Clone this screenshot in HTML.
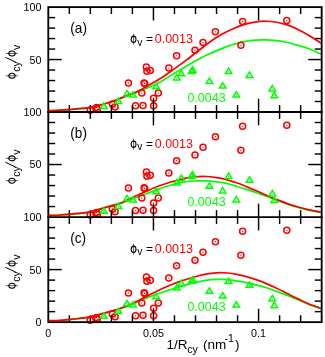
<!DOCTYPE html>
<html><head><meta charset="utf-8"><title>chart</title>
<style>
html,body{margin:0;padding:0;background:#ffffff;}
body{width:325px;height:357px;overflow:hidden;font-family:"Liberation Sans",sans-serif;}
svg{display:block;will-change:transform;}
</style></head>
<body>
<svg width="325" height="357" viewBox="0 0 325 357">
<rect x="0" y="0" width="325" height="357" fill="#ffffff"/>
<defs>
<clipPath id="clip0"><rect x="44.30" y="3.10" width="281.37" height="112.90"/></clipPath>
<clipPath id="clipc0"><rect x="48.30" y="6.10" width="272.77" height="106.90"/></clipPath>
<clipPath id="clip1"><rect x="44.30" y="108.00" width="281.37" height="113.05"/></clipPath>
<clipPath id="clipc1"><rect x="48.30" y="111.00" width="272.77" height="107.05"/></clipPath>
<clipPath id="clip2"><rect x="44.30" y="213.05" width="281.37" height="113.10"/></clipPath>
<clipPath id="clipc2"><rect x="48.30" y="216.05" width="272.77" height="107.10"/></clipPath>
</defs>
<g clip-path="url(#clipc0)">
<path d="M48.30,110.85 C50.25,110.78 56.55,110.63 60.00,110.45 C63.45,110.27 66.00,110.01 69.00,109.75 C72.00,109.49 74.52,109.27 78.00,108.90 C81.48,108.53 84.43,108.66 89.90,107.55 C95.37,106.44 104.45,104.28 110.80,102.25 C117.15,100.22 123.58,97.02 128.00,95.35 C132.42,93.67 133.70,93.59 137.30,92.20 C140.90,90.81 145.50,88.88 149.60,87.00 C153.70,85.12 157.78,83.18 161.90,80.90 C166.02,78.62 170.18,75.80 174.30,73.30 C178.42,70.80 182.18,68.45 186.60,65.90 C191.02,63.35 196.63,60.17 200.80,58.00 C204.97,55.83 208.02,54.50 211.60,52.90 C215.18,51.30 218.72,49.82 222.30,48.40 C225.88,46.98 229.50,45.52 233.10,44.40 C236.70,43.28 240.30,42.40 243.90,41.70 C247.50,41.00 251.05,40.52 254.70,40.20 C258.35,39.88 262.15,39.72 265.80,39.80 C269.45,39.88 273.02,40.25 276.60,40.70 C280.18,41.15 283.72,41.73 287.30,42.50 C290.88,43.27 294.50,44.25 298.10,45.30 C301.70,46.35 304.92,47.28 308.90,48.80 C312.88,50.32 319.82,53.47 322.00,54.40" fill="none" stroke="#00ff00" stroke-width="1.75"/>
</g>
<g clip-path="url(#clip0)" fill="none" stroke="#ff0000" stroke-width="1.50">
<circle cx="90.30" cy="110.20" r="3.02"/><circle cx="90.30" cy="110.20" r="0.65" fill="#ff0000" stroke="none"/>
<circle cx="96.50" cy="107.50" r="3.02"/><circle cx="96.50" cy="107.50" r="0.65" fill="#ff0000" stroke="none"/>
<circle cx="97.40" cy="109.40" r="3.02"/><circle cx="97.40" cy="109.40" r="0.65" fill="#ff0000" stroke="none"/>
<circle cx="112.30" cy="104.10" r="3.02"/><circle cx="112.30" cy="104.10" r="0.65" fill="#ff0000" stroke="none"/>
<circle cx="115.10" cy="106.90" r="3.02"/><circle cx="115.10" cy="106.90" r="0.65" fill="#ff0000" stroke="none"/>
<circle cx="135.50" cy="105.70" r="3.02"/><circle cx="135.50" cy="105.70" r="0.65" fill="#ff0000" stroke="none"/>
<circle cx="143.00" cy="105.40" r="3.02"/><circle cx="143.00" cy="105.40" r="0.65" fill="#ff0000" stroke="none"/>
<circle cx="153.60" cy="105.70" r="3.02"/><circle cx="153.60" cy="105.70" r="0.65" fill="#ff0000" stroke="none"/>
<circle cx="153.60" cy="98.20" r="3.02"/><circle cx="153.60" cy="98.20" r="0.65" fill="#ff0000" stroke="none"/>
<circle cx="158.30" cy="93.10" r="3.02"/><circle cx="158.30" cy="93.10" r="0.65" fill="#ff0000" stroke="none"/>
<circle cx="141.80" cy="93.10" r="3.02"/><circle cx="141.80" cy="93.10" r="0.65" fill="#ff0000" stroke="none"/>
<circle cx="128.40" cy="83.00" r="3.02"/><circle cx="128.40" cy="83.00" r="0.65" fill="#ff0000" stroke="none"/>
<circle cx="144.10" cy="82.90" r="3.02"/><circle cx="144.10" cy="82.90" r="0.65" fill="#ff0000" stroke="none"/>
<circle cx="144.70" cy="83.50" r="3.02"/><circle cx="144.70" cy="83.50" r="0.65" fill="#ff0000" stroke="none"/>
<circle cx="146.40" cy="67.10" r="3.02"/><circle cx="146.40" cy="67.10" r="0.65" fill="#ff0000" stroke="none"/>
<circle cx="146.90" cy="71.30" r="3.02"/><circle cx="146.90" cy="71.30" r="0.65" fill="#ff0000" stroke="none"/>
<circle cx="150.30" cy="70.40" r="3.02"/><circle cx="150.30" cy="70.40" r="0.65" fill="#ff0000" stroke="none"/>
<circle cx="168.80" cy="68.10" r="3.02"/><circle cx="168.80" cy="68.10" r="0.65" fill="#ff0000" stroke="none"/>
<circle cx="176.60" cy="55.80" r="3.02"/><circle cx="176.60" cy="55.80" r="0.65" fill="#ff0000" stroke="none"/>
<circle cx="195.00" cy="50.20" r="3.02"/><circle cx="195.00" cy="50.20" r="0.65" fill="#ff0000" stroke="none"/>
<circle cx="203.00" cy="42.40" r="3.02"/><circle cx="203.00" cy="42.40" r="0.65" fill="#ff0000" stroke="none"/>
<circle cx="215.40" cy="31.80" r="3.02"/><circle cx="215.40" cy="31.80" r="0.65" fill="#ff0000" stroke="none"/>
<circle cx="242.60" cy="21.40" r="3.02"/><circle cx="242.60" cy="21.40" r="0.65" fill="#ff0000" stroke="none"/>
<circle cx="286.80" cy="20.40" r="3.02"/><circle cx="286.80" cy="20.40" r="0.65" fill="#ff0000" stroke="none"/>
<circle cx="240.90" cy="45.30" r="3.02"/><circle cx="240.90" cy="45.30" r="0.65" fill="#ff0000" stroke="none"/>
</g>
<g clip-path="url(#clipc1)">
<path d="M48.30,215.65 C50.25,215.58 56.57,215.43 60.00,215.25 C63.43,215.07 65.90,214.82 68.90,214.55 C71.90,214.28 74.50,214.07 78.00,213.65 C81.50,213.23 84.43,213.41 89.90,212.05 C95.37,210.69 105.78,206.93 110.80,205.50 C115.82,204.07 116.42,204.58 120.00,203.50 C123.58,202.42 128.20,200.53 132.30,199.00 C136.40,197.47 140.50,195.84 144.60,194.31 C148.70,192.77 152.78,191.27 156.90,189.80 C161.02,188.33 165.18,186.72 169.30,185.50 C173.42,184.28 177.50,183.25 181.60,182.50 C185.70,181.75 189.87,181.27 193.90,181.00 C197.93,180.73 202.02,180.75 205.80,180.90 C209.58,181.05 213.02,181.45 216.60,181.90 C220.18,182.35 223.72,182.79 227.30,183.60 C230.88,184.41 234.50,185.65 238.10,186.74 C241.70,187.82 245.30,188.94 248.90,190.12 C252.50,191.30 256.88,192.84 259.70,193.81 C262.52,194.77 262.98,194.85 265.80,195.90 C268.62,196.94 273.02,198.72 276.60,200.08 C280.18,201.44 283.72,202.85 287.30,204.06 C290.88,205.27 294.50,206.33 298.10,207.34 C301.70,208.35 304.92,209.25 308.90,210.12 C312.88,211.00 319.82,212.19 322.00,212.60" fill="none" stroke="#00ff00" stroke-width="1.75"/>
</g>
<g clip-path="url(#clip1)" fill="none" stroke="#ff0000" stroke-width="1.50">
<circle cx="90.30" cy="215.10" r="3.02"/><circle cx="90.30" cy="215.10" r="0.65" fill="#ff0000" stroke="none"/>
<circle cx="96.50" cy="212.40" r="3.02"/><circle cx="96.50" cy="212.40" r="0.65" fill="#ff0000" stroke="none"/>
<circle cx="97.40" cy="214.30" r="3.02"/><circle cx="97.40" cy="214.30" r="0.65" fill="#ff0000" stroke="none"/>
<circle cx="112.30" cy="209.00" r="3.02"/><circle cx="112.30" cy="209.00" r="0.65" fill="#ff0000" stroke="none"/>
<circle cx="115.10" cy="211.80" r="3.02"/><circle cx="115.10" cy="211.80" r="0.65" fill="#ff0000" stroke="none"/>
<circle cx="135.50" cy="210.60" r="3.02"/><circle cx="135.50" cy="210.60" r="0.65" fill="#ff0000" stroke="none"/>
<circle cx="143.00" cy="210.30" r="3.02"/><circle cx="143.00" cy="210.30" r="0.65" fill="#ff0000" stroke="none"/>
<circle cx="153.60" cy="210.60" r="3.02"/><circle cx="153.60" cy="210.60" r="0.65" fill="#ff0000" stroke="none"/>
<circle cx="153.60" cy="203.10" r="3.02"/><circle cx="153.60" cy="203.10" r="0.65" fill="#ff0000" stroke="none"/>
<circle cx="158.30" cy="198.00" r="3.02"/><circle cx="158.30" cy="198.00" r="0.65" fill="#ff0000" stroke="none"/>
<circle cx="141.80" cy="198.00" r="3.02"/><circle cx="141.80" cy="198.00" r="0.65" fill="#ff0000" stroke="none"/>
<circle cx="128.40" cy="187.90" r="3.02"/><circle cx="128.40" cy="187.90" r="0.65" fill="#ff0000" stroke="none"/>
<circle cx="144.10" cy="187.80" r="3.02"/><circle cx="144.10" cy="187.80" r="0.65" fill="#ff0000" stroke="none"/>
<circle cx="144.70" cy="188.40" r="3.02"/><circle cx="144.70" cy="188.40" r="0.65" fill="#ff0000" stroke="none"/>
<circle cx="146.40" cy="172.00" r="3.02"/><circle cx="146.40" cy="172.00" r="0.65" fill="#ff0000" stroke="none"/>
<circle cx="146.90" cy="176.20" r="3.02"/><circle cx="146.90" cy="176.20" r="0.65" fill="#ff0000" stroke="none"/>
<circle cx="150.30" cy="175.30" r="3.02"/><circle cx="150.30" cy="175.30" r="0.65" fill="#ff0000" stroke="none"/>
<circle cx="168.80" cy="173.00" r="3.02"/><circle cx="168.80" cy="173.00" r="0.65" fill="#ff0000" stroke="none"/>
<circle cx="176.60" cy="160.70" r="3.02"/><circle cx="176.60" cy="160.70" r="0.65" fill="#ff0000" stroke="none"/>
<circle cx="195.00" cy="155.10" r="3.02"/><circle cx="195.00" cy="155.10" r="0.65" fill="#ff0000" stroke="none"/>
<circle cx="203.00" cy="147.30" r="3.02"/><circle cx="203.00" cy="147.30" r="0.65" fill="#ff0000" stroke="none"/>
<circle cx="215.40" cy="136.70" r="3.02"/><circle cx="215.40" cy="136.70" r="0.65" fill="#ff0000" stroke="none"/>
<circle cx="242.60" cy="126.30" r="3.02"/><circle cx="242.60" cy="126.30" r="0.65" fill="#ff0000" stroke="none"/>
<circle cx="286.80" cy="125.30" r="3.02"/><circle cx="286.80" cy="125.30" r="0.65" fill="#ff0000" stroke="none"/>
<circle cx="240.90" cy="150.20" r="3.02"/><circle cx="240.90" cy="150.20" r="0.65" fill="#ff0000" stroke="none"/>
</g>
<g clip-path="url(#clipc2)">
<path d="M48.30,320.95 C50.25,320.88 56.57,320.75 60.00,320.55 C63.43,320.35 65.90,320.05 68.90,319.75 C71.90,319.45 74.50,319.20 78.00,318.75 C81.50,318.30 84.43,318.26 89.90,317.05 C95.37,315.84 105.78,312.85 110.80,311.51 C115.82,310.16 116.42,310.18 120.00,308.98 C123.58,307.78 128.20,305.96 132.30,304.28 C136.40,302.59 140.50,300.57 144.60,298.86 C148.70,297.16 152.78,295.53 156.90,294.05 C161.02,292.56 165.18,291.27 169.30,289.94 C173.42,288.61 177.50,287.26 181.60,286.07 C185.70,284.87 189.87,283.75 193.90,282.79 C197.93,281.83 202.02,280.86 205.80,280.30 C209.58,279.74 213.02,279.52 216.60,279.40 C220.18,279.28 223.72,279.32 227.30,279.60 C230.88,279.88 234.50,280.52 238.10,281.10 C241.70,281.68 245.30,282.31 248.90,283.10 C252.50,283.88 256.88,285.07 259.70,285.80 C262.52,286.54 262.98,286.61 265.80,287.53 C268.62,288.45 273.02,290.01 276.60,291.33 C280.18,292.65 283.72,294.03 287.30,295.43 C290.88,296.83 294.50,298.25 298.10,299.73 C301.70,301.22 304.92,302.82 308.90,304.36 C312.88,305.91 319.82,308.23 322.00,309.00" fill="none" stroke="#00ff00" stroke-width="1.75"/>
</g>
<g clip-path="url(#clip2)" fill="none" stroke="#ff0000" stroke-width="1.50">
<circle cx="90.30" cy="320.15" r="3.02"/><circle cx="90.30" cy="320.15" r="0.65" fill="#ff0000" stroke="none"/>
<circle cx="96.50" cy="317.45" r="3.02"/><circle cx="96.50" cy="317.45" r="0.65" fill="#ff0000" stroke="none"/>
<circle cx="97.40" cy="319.35" r="3.02"/><circle cx="97.40" cy="319.35" r="0.65" fill="#ff0000" stroke="none"/>
<circle cx="112.30" cy="314.05" r="3.02"/><circle cx="112.30" cy="314.05" r="0.65" fill="#ff0000" stroke="none"/>
<circle cx="115.10" cy="316.85" r="3.02"/><circle cx="115.10" cy="316.85" r="0.65" fill="#ff0000" stroke="none"/>
<circle cx="135.50" cy="315.65" r="3.02"/><circle cx="135.50" cy="315.65" r="0.65" fill="#ff0000" stroke="none"/>
<circle cx="143.00" cy="315.35" r="3.02"/><circle cx="143.00" cy="315.35" r="0.65" fill="#ff0000" stroke="none"/>
<circle cx="153.60" cy="315.65" r="3.02"/><circle cx="153.60" cy="315.65" r="0.65" fill="#ff0000" stroke="none"/>
<circle cx="153.60" cy="308.15" r="3.02"/><circle cx="153.60" cy="308.15" r="0.65" fill="#ff0000" stroke="none"/>
<circle cx="158.30" cy="303.05" r="3.02"/><circle cx="158.30" cy="303.05" r="0.65" fill="#ff0000" stroke="none"/>
<circle cx="141.80" cy="303.05" r="3.02"/><circle cx="141.80" cy="303.05" r="0.65" fill="#ff0000" stroke="none"/>
<circle cx="128.40" cy="292.95" r="3.02"/><circle cx="128.40" cy="292.95" r="0.65" fill="#ff0000" stroke="none"/>
<circle cx="144.10" cy="292.85" r="3.02"/><circle cx="144.10" cy="292.85" r="0.65" fill="#ff0000" stroke="none"/>
<circle cx="144.70" cy="293.45" r="3.02"/><circle cx="144.70" cy="293.45" r="0.65" fill="#ff0000" stroke="none"/>
<circle cx="146.40" cy="277.05" r="3.02"/><circle cx="146.40" cy="277.05" r="0.65" fill="#ff0000" stroke="none"/>
<circle cx="146.90" cy="281.25" r="3.02"/><circle cx="146.90" cy="281.25" r="0.65" fill="#ff0000" stroke="none"/>
<circle cx="150.30" cy="280.35" r="3.02"/><circle cx="150.30" cy="280.35" r="0.65" fill="#ff0000" stroke="none"/>
<circle cx="168.80" cy="278.05" r="3.02"/><circle cx="168.80" cy="278.05" r="0.65" fill="#ff0000" stroke="none"/>
<circle cx="176.60" cy="265.75" r="3.02"/><circle cx="176.60" cy="265.75" r="0.65" fill="#ff0000" stroke="none"/>
<circle cx="195.00" cy="260.15" r="3.02"/><circle cx="195.00" cy="260.15" r="0.65" fill="#ff0000" stroke="none"/>
<circle cx="203.00" cy="252.35" r="3.02"/><circle cx="203.00" cy="252.35" r="0.65" fill="#ff0000" stroke="none"/>
<circle cx="215.40" cy="241.75" r="3.02"/><circle cx="215.40" cy="241.75" r="0.65" fill="#ff0000" stroke="none"/>
<circle cx="242.60" cy="231.35" r="3.02"/><circle cx="242.60" cy="231.35" r="0.65" fill="#ff0000" stroke="none"/>
<circle cx="286.80" cy="230.35" r="3.02"/><circle cx="286.80" cy="230.35" r="0.65" fill="#ff0000" stroke="none"/>
<circle cx="240.90" cy="255.25" r="3.02"/><circle cx="240.90" cy="255.25" r="0.65" fill="#ff0000" stroke="none"/>
</g>
<g stroke="#000" stroke-width="1.45" fill="none">
<line x1="69.33" y1="7.10" x2="69.33" y2="14.00"/>
<line x1="69.33" y1="105.10" x2="69.33" y2="118.90"/>
<line x1="69.33" y1="210.15" x2="69.33" y2="223.95"/>
<line x1="69.33" y1="315.25" x2="69.33" y2="322.15"/>
<line x1="90.36" y1="7.10" x2="90.36" y2="14.00"/>
<line x1="90.36" y1="105.10" x2="90.36" y2="118.90"/>
<line x1="90.36" y1="210.15" x2="90.36" y2="223.95"/>
<line x1="90.36" y1="315.25" x2="90.36" y2="322.15"/>
<line x1="111.39" y1="7.10" x2="111.39" y2="14.00"/>
<line x1="111.39" y1="105.10" x2="111.39" y2="118.90"/>
<line x1="111.39" y1="210.15" x2="111.39" y2="223.95"/>
<line x1="111.39" y1="315.25" x2="111.39" y2="322.15"/>
<line x1="132.41" y1="7.10" x2="132.41" y2="14.00"/>
<line x1="132.41" y1="105.10" x2="132.41" y2="118.90"/>
<line x1="132.41" y1="210.15" x2="132.41" y2="223.95"/>
<line x1="132.41" y1="315.25" x2="132.41" y2="322.15"/>
<line x1="153.44" y1="7.10" x2="153.44" y2="20.50"/>
<line x1="153.44" y1="98.60" x2="153.44" y2="125.40"/>
<line x1="153.44" y1="203.65" x2="153.44" y2="230.45"/>
<line x1="153.44" y1="308.75" x2="153.44" y2="322.15"/>
<line x1="174.47" y1="7.10" x2="174.47" y2="14.00"/>
<line x1="174.47" y1="105.10" x2="174.47" y2="118.90"/>
<line x1="174.47" y1="210.15" x2="174.47" y2="223.95"/>
<line x1="174.47" y1="315.25" x2="174.47" y2="322.15"/>
<line x1="195.50" y1="7.10" x2="195.50" y2="14.00"/>
<line x1="195.50" y1="105.10" x2="195.50" y2="118.90"/>
<line x1="195.50" y1="210.15" x2="195.50" y2="223.95"/>
<line x1="195.50" y1="315.25" x2="195.50" y2="322.15"/>
<line x1="216.53" y1="7.10" x2="216.53" y2="14.00"/>
<line x1="216.53" y1="105.10" x2="216.53" y2="118.90"/>
<line x1="216.53" y1="210.15" x2="216.53" y2="223.95"/>
<line x1="216.53" y1="315.25" x2="216.53" y2="322.15"/>
<line x1="237.56" y1="7.10" x2="237.56" y2="14.00"/>
<line x1="237.56" y1="105.10" x2="237.56" y2="118.90"/>
<line x1="237.56" y1="210.15" x2="237.56" y2="223.95"/>
<line x1="237.56" y1="315.25" x2="237.56" y2="322.15"/>
<line x1="258.58" y1="7.10" x2="258.58" y2="20.50"/>
<line x1="258.58" y1="98.60" x2="258.58" y2="125.40"/>
<line x1="258.58" y1="203.65" x2="258.58" y2="230.45"/>
<line x1="258.58" y1="308.75" x2="258.58" y2="322.15"/>
<line x1="279.61" y1="7.10" x2="279.61" y2="14.00"/>
<line x1="279.61" y1="105.10" x2="279.61" y2="118.90"/>
<line x1="279.61" y1="210.15" x2="279.61" y2="223.95"/>
<line x1="279.61" y1="315.25" x2="279.61" y2="322.15"/>
<line x1="300.64" y1="7.10" x2="300.64" y2="14.00"/>
<line x1="300.64" y1="105.10" x2="300.64" y2="118.90"/>
<line x1="300.64" y1="210.15" x2="300.64" y2="223.95"/>
<line x1="300.64" y1="315.25" x2="300.64" y2="322.15"/>
<line x1="48.30" y1="17.59" x2="55.20" y2="17.59"/>
<line x1="321.67" y1="17.59" x2="314.77" y2="17.59"/>
<line x1="48.30" y1="28.08" x2="55.20" y2="28.08"/>
<line x1="321.67" y1="28.08" x2="314.77" y2="28.08"/>
<line x1="48.30" y1="38.57" x2="55.20" y2="38.57"/>
<line x1="321.67" y1="38.57" x2="314.77" y2="38.57"/>
<line x1="48.30" y1="49.06" x2="55.20" y2="49.06"/>
<line x1="321.67" y1="49.06" x2="314.77" y2="49.06"/>
<line x1="48.30" y1="59.55" x2="61.70" y2="59.55"/>
<line x1="321.67" y1="59.55" x2="308.27" y2="59.55"/>
<line x1="48.30" y1="70.04" x2="55.20" y2="70.04"/>
<line x1="321.67" y1="70.04" x2="314.77" y2="70.04"/>
<line x1="48.30" y1="80.53" x2="55.20" y2="80.53"/>
<line x1="321.67" y1="80.53" x2="314.77" y2="80.53"/>
<line x1="48.30" y1="91.02" x2="55.20" y2="91.02"/>
<line x1="321.67" y1="91.02" x2="314.77" y2="91.02"/>
<line x1="48.30" y1="101.51" x2="55.20" y2="101.51"/>
<line x1="321.67" y1="101.51" x2="314.77" y2="101.51"/>
<line x1="48.30" y1="122.50" x2="55.20" y2="122.50"/>
<line x1="321.67" y1="122.50" x2="314.77" y2="122.50"/>
<line x1="48.30" y1="133.01" x2="55.20" y2="133.01"/>
<line x1="321.67" y1="133.01" x2="314.77" y2="133.01"/>
<line x1="48.30" y1="143.52" x2="55.20" y2="143.52"/>
<line x1="321.67" y1="143.52" x2="314.77" y2="143.52"/>
<line x1="48.30" y1="154.02" x2="55.20" y2="154.02"/>
<line x1="321.67" y1="154.02" x2="314.77" y2="154.02"/>
<line x1="48.30" y1="164.53" x2="61.70" y2="164.53"/>
<line x1="321.67" y1="164.53" x2="308.27" y2="164.53"/>
<line x1="48.30" y1="175.03" x2="55.20" y2="175.03"/>
<line x1="321.67" y1="175.03" x2="314.77" y2="175.03"/>
<line x1="48.30" y1="185.54" x2="55.20" y2="185.54"/>
<line x1="321.67" y1="185.54" x2="314.77" y2="185.54"/>
<line x1="48.30" y1="196.04" x2="55.20" y2="196.04"/>
<line x1="321.67" y1="196.04" x2="314.77" y2="196.04"/>
<line x1="48.30" y1="206.55" x2="55.20" y2="206.55"/>
<line x1="321.67" y1="206.55" x2="314.77" y2="206.55"/>
<line x1="48.30" y1="227.56" x2="55.20" y2="227.56"/>
<line x1="321.67" y1="227.56" x2="314.77" y2="227.56"/>
<line x1="48.30" y1="238.07" x2="55.20" y2="238.07"/>
<line x1="321.67" y1="238.07" x2="314.77" y2="238.07"/>
<line x1="48.30" y1="248.58" x2="55.20" y2="248.58"/>
<line x1="321.67" y1="248.58" x2="314.77" y2="248.58"/>
<line x1="48.30" y1="259.09" x2="55.20" y2="259.09"/>
<line x1="321.67" y1="259.09" x2="314.77" y2="259.09"/>
<line x1="48.30" y1="269.60" x2="61.70" y2="269.60"/>
<line x1="321.67" y1="269.60" x2="308.27" y2="269.60"/>
<line x1="48.30" y1="280.11" x2="55.20" y2="280.11"/>
<line x1="321.67" y1="280.11" x2="314.77" y2="280.11"/>
<line x1="48.30" y1="290.62" x2="55.20" y2="290.62"/>
<line x1="321.67" y1="290.62" x2="314.77" y2="290.62"/>
<line x1="48.30" y1="301.13" x2="55.20" y2="301.13"/>
<line x1="321.67" y1="301.13" x2="314.77" y2="301.13"/>
<line x1="48.30" y1="311.64" x2="55.20" y2="311.64"/>
<line x1="321.67" y1="311.64" x2="314.77" y2="311.64"/>
</g>
<g stroke="#000" stroke-width="1.85" fill="none" stroke-linecap="square">
<rect x="48.30" y="7.10" width="273.37" height="315.05"/>
<line x1="48.30" y1="112.00" x2="321.67" y2="112.00"/>
<line x1="48.30" y1="217.05" x2="321.67" y2="217.05"/>
</g>
<g clip-path="url(#clipc0)">
<path d="M48.30,110.60 C50.25,110.53 56.55,110.38 60.00,110.20 C63.45,110.02 66.00,109.76 69.00,109.50 C72.00,109.24 74.52,109.02 78.00,108.65 C81.48,108.28 84.43,108.41 89.90,107.30 C95.37,106.19 104.45,104.03 110.80,102.00 C117.15,99.97 123.58,96.85 128.00,95.10 C132.42,93.35 133.70,93.22 137.30,91.50 C140.90,89.78 145.50,87.13 149.60,84.80 C153.70,82.47 157.78,80.15 161.90,77.50 C166.02,74.85 170.18,71.83 174.30,68.90 C178.42,65.97 182.18,63.25 186.60,59.90 C191.02,56.55 196.63,52.00 200.80,48.80 C204.97,45.60 208.02,43.15 211.60,40.70 C215.18,38.25 218.72,36.10 222.30,34.10 C225.88,32.10 229.50,30.28 233.10,28.70 C236.70,27.12 240.30,25.70 243.90,24.60 C247.50,23.50 251.05,22.66 254.70,22.10 C258.35,21.54 262.15,21.23 265.80,21.25 C269.45,21.27 273.02,21.64 276.60,22.25 C280.18,22.86 283.72,23.70 287.30,24.90 C290.88,26.10 294.50,27.70 298.10,29.45 C301.70,31.20 304.92,33.04 308.90,35.40 C312.88,37.76 319.82,42.23 322.00,43.60" fill="none" stroke="#ff0000" stroke-width="1.75"/>
</g>
<g fill="none" stroke="#00ff00" stroke-width="1.50" stroke-linejoin="miter">
<path d="M103.80,102.94 L107.08,108.38 L100.52,108.38 Z"/><circle cx="103.80" cy="106.50" r="0.6" fill="#00ff00" stroke="none"/>
<path d="M118.40,98.14 L121.68,103.58 L115.12,103.58 Z"/><circle cx="118.40" cy="101.70" r="0.6" fill="#00ff00" stroke="none"/>
<path d="M127.00,90.44 L130.28,95.88 L123.72,95.88 Z"/><circle cx="127.00" cy="94.00" r="0.6" fill="#00ff00" stroke="none"/>
<path d="M133.00,91.64 L136.28,97.08 L129.72,97.08 Z"/><circle cx="133.00" cy="95.20" r="0.6" fill="#00ff00" stroke="none"/>
<path d="M156.20,83.34 L159.48,88.78 L152.92,88.78 Z"/><circle cx="156.20" cy="86.90" r="0.6" fill="#00ff00" stroke="none"/>
<path d="M176.80,74.54 L180.08,79.98 L173.52,79.98 Z"/><circle cx="176.80" cy="78.10" r="0.6" fill="#00ff00" stroke="none"/>
<path d="M181.30,70.34 L184.58,75.78 L178.02,75.78 Z"/><circle cx="181.30" cy="73.90" r="0.6" fill="#00ff00" stroke="none"/>
<path d="M191.60,67.94 L194.88,73.38 L188.32,73.38 Z"/><circle cx="191.60" cy="71.50" r="0.6" fill="#00ff00" stroke="none"/>
<path d="M192.60,66.74 L195.88,72.18 L189.32,72.18 Z"/><circle cx="192.60" cy="70.30" r="0.6" fill="#00ff00" stroke="none"/>
<path d="M209.40,77.94 L212.68,83.38 L206.12,83.38 Z"/><circle cx="209.40" cy="81.50" r="0.6" fill="#00ff00" stroke="none"/>
<path d="M222.70,82.64 L225.98,88.08 L219.42,88.08 Z"/><circle cx="222.70" cy="86.20" r="0.6" fill="#00ff00" stroke="none"/>
<path d="M228.60,68.14 L231.88,73.58 L225.32,73.58 Z"/><circle cx="228.60" cy="71.70" r="0.6" fill="#00ff00" stroke="none"/>
<path d="M236.30,91.64 L239.58,97.08 L233.02,97.08 Z"/><circle cx="236.30" cy="95.20" r="0.6" fill="#00ff00" stroke="none"/>
<path d="M249.50,71.94 L252.78,77.38 L246.22,77.38 Z"/><circle cx="249.50" cy="75.50" r="0.6" fill="#00ff00" stroke="none"/>
<path d="M272.30,85.54 L275.58,90.98 L269.02,90.98 Z"/><circle cx="272.30" cy="89.10" r="0.6" fill="#00ff00" stroke="none"/>
<path d="M274.30,92.24 L277.58,97.68 L271.02,97.68 Z"/><circle cx="274.30" cy="95.80" r="0.6" fill="#00ff00" stroke="none"/>
</g>
<g clip-path="url(#clipc1)">
<path d="M48.30,215.40 C50.25,215.33 56.57,215.18 60.00,215.00 C63.43,214.82 65.90,214.57 68.90,214.30 C71.90,214.03 74.50,213.82 78.00,213.40 C81.50,212.98 84.43,213.03 89.90,211.80 C95.37,210.57 105.78,207.43 110.80,206.00 C115.82,204.57 116.42,204.61 120.00,203.20 C123.58,201.79 128.20,199.42 132.30,197.56 C136.40,195.70 140.50,193.87 144.60,192.07 C148.70,190.26 152.78,188.33 156.90,186.74 C161.02,185.14 165.18,183.76 169.30,182.49 C173.42,181.22 177.50,180.03 181.60,179.10 C185.70,178.17 189.87,177.33 193.90,176.90 C197.93,176.47 202.02,176.37 205.80,176.50 C209.58,176.63 213.02,177.15 216.60,177.70 C220.18,178.25 223.72,178.87 227.30,179.80 C230.88,180.73 234.50,182.00 238.10,183.30 C241.70,184.60 245.30,186.10 248.90,187.60 C252.50,189.10 256.88,191.07 259.70,192.30 C262.52,193.53 262.98,193.80 265.80,195.00 C268.62,196.20 273.02,198.07 276.60,199.50 C280.18,200.93 283.72,202.35 287.30,203.60 C290.88,204.85 294.50,205.97 298.10,207.00 C301.70,208.03 304.92,208.92 308.90,209.80 C312.88,210.68 319.82,211.88 322.00,212.30" fill="none" stroke="#ff0000" stroke-width="1.75"/>
</g>
<g fill="none" stroke="#00ff00" stroke-width="1.50" stroke-linejoin="miter">
<path d="M103.80,207.84 L107.08,213.28 L100.52,213.28 Z"/><circle cx="103.80" cy="211.40" r="0.6" fill="#00ff00" stroke="none"/>
<path d="M118.40,203.04 L121.68,208.48 L115.12,208.48 Z"/><circle cx="118.40" cy="206.60" r="0.6" fill="#00ff00" stroke="none"/>
<path d="M127.00,195.34 L130.28,200.78 L123.72,200.78 Z"/><circle cx="127.00" cy="198.90" r="0.6" fill="#00ff00" stroke="none"/>
<path d="M133.00,196.54 L136.28,201.98 L129.72,201.98 Z"/><circle cx="133.00" cy="200.10" r="0.6" fill="#00ff00" stroke="none"/>
<path d="M156.20,188.24 L159.48,193.68 L152.92,193.68 Z"/><circle cx="156.20" cy="191.80" r="0.6" fill="#00ff00" stroke="none"/>
<path d="M176.80,179.44 L180.08,184.88 L173.52,184.88 Z"/><circle cx="176.80" cy="183.00" r="0.6" fill="#00ff00" stroke="none"/>
<path d="M181.30,175.24 L184.58,180.68 L178.02,180.68 Z"/><circle cx="181.30" cy="178.80" r="0.6" fill="#00ff00" stroke="none"/>
<path d="M191.60,172.84 L194.88,178.28 L188.32,178.28 Z"/><circle cx="191.60" cy="176.40" r="0.6" fill="#00ff00" stroke="none"/>
<path d="M192.60,171.64 L195.88,177.08 L189.32,177.08 Z"/><circle cx="192.60" cy="175.20" r="0.6" fill="#00ff00" stroke="none"/>
<path d="M209.40,182.84 L212.68,188.28 L206.12,188.28 Z"/><circle cx="209.40" cy="186.40" r="0.6" fill="#00ff00" stroke="none"/>
<path d="M222.70,187.54 L225.98,192.98 L219.42,192.98 Z"/><circle cx="222.70" cy="191.10" r="0.6" fill="#00ff00" stroke="none"/>
<path d="M228.60,173.04 L231.88,178.48 L225.32,178.48 Z"/><circle cx="228.60" cy="176.60" r="0.6" fill="#00ff00" stroke="none"/>
<path d="M236.30,196.54 L239.58,201.98 L233.02,201.98 Z"/><circle cx="236.30" cy="200.10" r="0.6" fill="#00ff00" stroke="none"/>
<path d="M249.50,176.84 L252.78,182.28 L246.22,182.28 Z"/><circle cx="249.50" cy="180.40" r="0.6" fill="#00ff00" stroke="none"/>
<path d="M272.30,190.44 L275.58,195.88 L269.02,195.88 Z"/><circle cx="272.30" cy="194.00" r="0.6" fill="#00ff00" stroke="none"/>
<path d="M274.30,197.14 L277.58,202.58 L271.02,202.58 Z"/><circle cx="274.30" cy="200.70" r="0.6" fill="#00ff00" stroke="none"/>
</g>
<g clip-path="url(#clipc2)">
<path d="M48.30,320.70 C50.25,320.63 56.57,320.50 60.00,320.30 C63.43,320.10 65.90,319.80 68.90,319.50 C71.90,319.20 74.50,318.95 78.00,318.50 C81.50,318.05 84.43,318.02 89.90,316.80 C95.37,315.58 105.78,312.58 110.80,311.20 C115.82,309.82 116.42,309.78 120.00,308.50 C123.58,307.22 128.20,305.35 132.30,303.50 C136.40,301.65 140.50,299.45 144.60,297.40 C148.70,295.35 152.78,293.18 156.90,291.20 C161.02,289.22 165.18,287.22 169.30,285.50 C173.42,283.78 177.50,282.30 181.60,280.90 C185.70,279.50 189.87,278.23 193.90,277.10 C197.93,275.97 202.02,274.81 205.80,274.10 C209.58,273.39 213.02,273.03 216.60,272.85 C220.18,272.67 223.72,272.69 227.30,273.00 C230.88,273.31 234.50,273.98 238.10,274.70 C241.70,275.42 245.30,276.29 248.90,277.32 C252.50,278.35 256.88,279.86 259.70,280.87 C262.52,281.88 262.98,282.16 265.80,283.38 C268.62,284.60 273.02,286.53 276.60,288.22 C280.18,289.92 283.72,291.79 287.30,293.57 C290.88,295.35 294.50,297.18 298.10,298.91 C301.70,300.64 304.92,302.33 308.90,303.96 C312.88,305.60 319.82,307.91 322.00,308.70" fill="none" stroke="#ff0000" stroke-width="1.75"/>
</g>
<g fill="none" stroke="#00ff00" stroke-width="1.50" stroke-linejoin="miter">
<path d="M103.80,312.89 L107.08,318.33 L100.52,318.33 Z"/><circle cx="103.80" cy="316.45" r="0.6" fill="#00ff00" stroke="none"/>
<path d="M118.40,308.09 L121.68,313.53 L115.12,313.53 Z"/><circle cx="118.40" cy="311.65" r="0.6" fill="#00ff00" stroke="none"/>
<path d="M127.00,300.39 L130.28,305.83 L123.72,305.83 Z"/><circle cx="127.00" cy="303.95" r="0.6" fill="#00ff00" stroke="none"/>
<path d="M133.00,301.59 L136.28,307.03 L129.72,307.03 Z"/><circle cx="133.00" cy="305.15" r="0.6" fill="#00ff00" stroke="none"/>
<path d="M156.20,293.29 L159.48,298.73 L152.92,298.73 Z"/><circle cx="156.20" cy="296.85" r="0.6" fill="#00ff00" stroke="none"/>
<path d="M176.80,284.49 L180.08,289.93 L173.52,289.93 Z"/><circle cx="176.80" cy="288.05" r="0.6" fill="#00ff00" stroke="none"/>
<path d="M181.30,280.29 L184.58,285.73 L178.02,285.73 Z"/><circle cx="181.30" cy="283.85" r="0.6" fill="#00ff00" stroke="none"/>
<path d="M191.60,277.89 L194.88,283.33 L188.32,283.33 Z"/><circle cx="191.60" cy="281.45" r="0.6" fill="#00ff00" stroke="none"/>
<path d="M192.60,276.69 L195.88,282.13 L189.32,282.13 Z"/><circle cx="192.60" cy="280.25" r="0.6" fill="#00ff00" stroke="none"/>
<path d="M209.40,287.89 L212.68,293.33 L206.12,293.33 Z"/><circle cx="209.40" cy="291.45" r="0.6" fill="#00ff00" stroke="none"/>
<path d="M222.70,292.59 L225.98,298.03 L219.42,298.03 Z"/><circle cx="222.70" cy="296.15" r="0.6" fill="#00ff00" stroke="none"/>
<path d="M228.60,278.09 L231.88,283.53 L225.32,283.53 Z"/><circle cx="228.60" cy="281.65" r="0.6" fill="#00ff00" stroke="none"/>
<path d="M236.30,301.59 L239.58,307.03 L233.02,307.03 Z"/><circle cx="236.30" cy="305.15" r="0.6" fill="#00ff00" stroke="none"/>
<path d="M249.50,281.89 L252.78,287.33 L246.22,287.33 Z"/><circle cx="249.50" cy="285.45" r="0.6" fill="#00ff00" stroke="none"/>
<path d="M272.30,295.49 L275.58,300.93 L269.02,300.93 Z"/><circle cx="272.30" cy="299.05" r="0.6" fill="#00ff00" stroke="none"/>
<path d="M274.30,302.19 L277.58,307.63 L271.02,307.63 Z"/><circle cx="274.30" cy="305.75" r="0.6" fill="#00ff00" stroke="none"/>
</g>
<g font-family="Liberation Sans, sans-serif" font-size="11.20" fill="#000">
<text transform="translate(41.55,11.05) scale(0.962,1)" text-anchor="end">100</text>
<text transform="translate(41.55,63.50) scale(0.962,1)" text-anchor="end">50</text>
<text transform="translate(41.55,115.95) scale(0.962,1)" text-anchor="end">100</text>
<text transform="translate(41.55,168.47) scale(0.962,1)" text-anchor="end">50</text>
<text transform="translate(41.55,221.00) scale(0.962,1)" text-anchor="end">100</text>
<text transform="translate(41.55,273.55) scale(0.962,1)" text-anchor="end">50</text>
<text transform="translate(41.55,326.10) scale(0.962,1)" text-anchor="end">0</text>
<text transform="translate(48.30,337.15) scale(0.962,1)" text-anchor="middle">0</text>
<text transform="translate(153.44,337.15) scale(0.962,1)" text-anchor="middle">0.05</text>
<text transform="translate(258.58,337.15) scale(0.962,1)" text-anchor="middle">0.1</text>
</g>
<g font-family="Liberation Sans, sans-serif" font-size="13.30">
<text transform="translate(70.3,32.90) scale(0.944,1)" font-size="14.4" fill="#000">(a)</text>
<ellipse cx="133.60" cy="39.30" rx="2.40" ry="3.15" fill="none" stroke="#000" stroke-width="1.05"/><line x1="133.60" y1="33.70" x2="133.60" y2="44.70" stroke="#000" stroke-width="0.65"/>
<text x="137.2" y="45.50" font-size="10.3" fill="#000">v</text>
<text x="146.1" y="42.85" font-size="11.9" fill="#000">=</text>
<text transform="translate(154.75,42.90) scale(0.940,1)" fill="#ff0000">0.0013</text>
<text transform="translate(187.45,101.50) scale(0.940,1)" fill="#00ff00">0.0043</text>
</g>
<g font-family="Liberation Sans, sans-serif" font-size="13.30">
<text transform="translate(70.3,137.80) scale(0.944,1)" font-size="14.4" fill="#000">(b)</text>
<ellipse cx="133.60" cy="144.20" rx="2.40" ry="3.15" fill="none" stroke="#000" stroke-width="1.05"/><line x1="133.60" y1="138.60" x2="133.60" y2="149.60" stroke="#000" stroke-width="0.65"/>
<text x="137.2" y="150.40" font-size="10.3" fill="#000">v</text>
<text x="146.1" y="147.75" font-size="11.9" fill="#000">=</text>
<text transform="translate(154.75,147.80) scale(0.940,1)" fill="#ff0000">0.0013</text>
<text transform="translate(187.45,206.40) scale(0.940,1)" fill="#00ff00">0.0043</text>
</g>
<g font-family="Liberation Sans, sans-serif" font-size="13.30">
<text transform="translate(70.3,242.85) scale(0.944,1)" font-size="14.4" fill="#000">(c)</text>
<ellipse cx="133.60" cy="249.25" rx="2.40" ry="3.15" fill="none" stroke="#000" stroke-width="1.05"/><line x1="133.60" y1="243.65" x2="133.60" y2="254.65" stroke="#000" stroke-width="0.65"/>
<text x="137.2" y="255.45" font-size="10.3" fill="#000">v</text>
<text x="146.1" y="252.80" font-size="11.9" fill="#000">=</text>
<text transform="translate(154.75,252.85) scale(0.940,1)" fill="#ff0000">0.0013</text>
<text transform="translate(187.45,311.45) scale(0.940,1)" fill="#00ff00">0.0043</text>
</g>
<g font-family="Liberation Sans, sans-serif" font-size="13.50" fill="#000">
<text x="166.5" y="348.60">1/R</text>
<text x="187.3" y="352.90" font-size="10.60">cy</text>
<text x="203.1" y="348.60">(nm</text>
<text x="224.4" y="342.40" font-size="10.60">-1</text>
<text x="235.0" y="348.60">)</text>
</g>
<g transform="translate(15.4,75.75) rotate(-90)" font-family="Liberation Sans, sans-serif" font-size="13.50" fill="#000">
<ellipse cx="0.00" cy="-3.40" rx="2.50" ry="3.20" fill="none" stroke="#000" stroke-width="1.05"/><line x1="0.00" y1="-9.50" x2="0.00" y2="2.40" stroke="#000" stroke-width="0.65"/>
<text transform="translate(3.95,4.5) scale(1,1.1)" font-size="10.6">cy</text>
<line x1="13.7" y1="0.1" x2="18.4" y2="-10.0" stroke="#000" stroke-width="1.0"/>
<ellipse cx="22.30" cy="-3.40" rx="2.50" ry="3.20" fill="none" stroke="#000" stroke-width="1.05"/><line x1="22.30" y1="-9.50" x2="22.30" y2="2.40" stroke="#000" stroke-width="0.65"/>
<text transform="translate(25.85,4.5) scale(1,1.1)" font-size="10.6">v</text>
</g>
<g transform="translate(15.4,180.65) rotate(-90)" font-family="Liberation Sans, sans-serif" font-size="13.50" fill="#000">
<ellipse cx="0.00" cy="-3.40" rx="2.50" ry="3.20" fill="none" stroke="#000" stroke-width="1.05"/><line x1="0.00" y1="-9.50" x2="0.00" y2="2.40" stroke="#000" stroke-width="0.65"/>
<text transform="translate(3.95,4.5) scale(1,1.1)" font-size="10.6">cy</text>
<line x1="13.7" y1="0.1" x2="18.4" y2="-10.0" stroke="#000" stroke-width="1.0"/>
<ellipse cx="22.30" cy="-3.40" rx="2.50" ry="3.20" fill="none" stroke="#000" stroke-width="1.05"/><line x1="22.30" y1="-9.50" x2="22.30" y2="2.40" stroke="#000" stroke-width="0.65"/>
<text transform="translate(25.85,4.5) scale(1,1.1)" font-size="10.6">v</text>
</g>
<g transform="translate(15.4,285.70) rotate(-90)" font-family="Liberation Sans, sans-serif" font-size="13.50" fill="#000">
<ellipse cx="0.00" cy="-3.40" rx="2.50" ry="3.20" fill="none" stroke="#000" stroke-width="1.05"/><line x1="0.00" y1="-9.50" x2="0.00" y2="2.40" stroke="#000" stroke-width="0.65"/>
<text transform="translate(3.95,4.5) scale(1,1.1)" font-size="10.6">cy</text>
<line x1="13.7" y1="0.1" x2="18.4" y2="-10.0" stroke="#000" stroke-width="1.0"/>
<ellipse cx="22.30" cy="-3.40" rx="2.50" ry="3.20" fill="none" stroke="#000" stroke-width="1.05"/><line x1="22.30" y1="-9.50" x2="22.30" y2="2.40" stroke="#000" stroke-width="0.65"/>
<text transform="translate(25.85,4.5) scale(1,1.1)" font-size="10.6">v</text>
</g>
</svg>
</body></html>
